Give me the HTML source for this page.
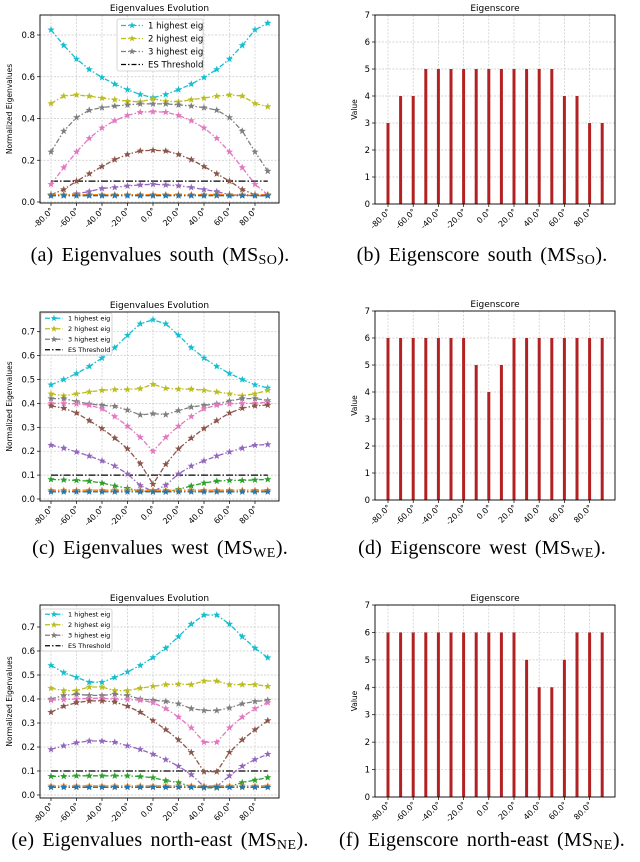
<!DOCTYPE html>
<html><head><meta charset="utf-8">
<style>
body{margin:0;background:#fff;}
#wrap{position:relative;width:640px;height:862px;overflow:hidden;}
.cap{position:absolute;font-family:"Liberation Serif",serif;font-size:20px;word-spacing:3px;letter-spacing:0.2px;color:#000;white-space:nowrap;transform:translateX(-50%);}
.cap sub{font-size:14px;vertical-align:-3px;letter-spacing:0.5px;}
</style></head>
<body><div id="wrap">
<svg id="svg" width="640" height="862" xmlns="http://www.w3.org/2000/svg"></svg>
<div class="cap" style="left:160px;top:244px">(a) Eigenvalues south (MS<sub>SO</sub>).</div>
<div class="cap" style="left:482px;top:244px">(b) Eigenscore south (MS<sub>SO</sub>).</div>
<div class="cap" style="left:160px;top:537px">(c) Eigenvalues west (MS<sub>WE</sub>).</div>
<div class="cap" style="left:482px;top:537px">(d) Eigenscore west (MS<sub>WE</sub>).</div>
<div class="cap" style="left:160px;top:829px">(e) Eigenvalues north-east (MS<sub>NE</sub>).</div>
<div class="cap" style="left:482px;top:829px">(f) Eigenscore north-east (MS<sub>NE</sub>).</div>
</div>
<script>
const angles=[-80,-70,-60,-50,-40,-30,-20,-10,0,10,20,30,40,50,60,70,80,90];
const tickAngles=[-80,-60,-40,-20,0,20,40,60,80];
const seriesNames=['cyan','olive','gray','pink','brown','purple','green','orange','blue'];
const southEig=[
[.825,.75,.685,.635,.597,.565,.538,.515,.50,.515,.538,.565,.597,.635,.685,.75,.825,.857],
[.472,.508,.513,.507,.498,.49,.483,.48,.495,.483,.48,.49,.498,.507,.513,.508,.472,.457],
[.24,.34,.405,.44,.452,.46,.465,.47,.47,.47,.465,.46,.452,.44,.405,.34,.24,.148],
[.085,.165,.24,.305,.355,.39,.415,.43,.433,.43,.415,.39,.355,.305,.24,.165,.085,.035],
[.035,.06,.10,.135,.17,.203,.228,.245,.248,.245,.228,.203,.17,.135,.10,.06,.035,.033],
[.03,.033,.04,.05,.065,.07,.077,.082,.085,.082,.078,.07,.06,.05,.035,.032,.03,.03],
[.033,.033,.033,.033,.033,.033,.033,.033,.033,.033,.033,.033,.033,.033,.033,.033,.033,.033],
[.035,.035,.035,.035,.035,.035,.035,.035,.035,.035,.035,.035,.035,.035,.035,.035,.035,.035],
[.03,.03,.03,.03,.03,.03,.03,.03,.03,.03,.03,.03,.03,.03,.03,.03,.03,.03]];
const westEig=[
[.478,.50,.525,.555,.59,.633,.685,.733,.75,.733,.685,.633,.59,.555,.525,.50,.478,.465],
[.44,.432,.44,.448,.455,.458,.458,.462,.48,.463,.46,.46,.455,.448,.44,.432,.44,.455],
[.42,.42,.408,.398,.392,.388,.372,.352,.357,.353,.37,.385,.392,.398,.41,.42,.42,.412],
[.40,.40,.398,.393,.378,.345,.305,.258,.20,.258,.305,.345,.378,.393,.398,.40,.40,.405],
[.39,.38,.36,.328,.295,.255,.21,.148,.062,.145,.21,.255,.295,.328,.36,.38,.39,.393],
[.225,.213,.197,.18,.16,.138,.105,.057,.032,.058,.105,.138,.16,.18,.197,.213,.225,.228],
[.082,.08,.078,.075,.067,.055,.045,.033,.03,.03,.04,.055,.067,.075,.078,.078,.08,.082],
[.037,.037,.037,.037,.037,.037,.037,.037,.037,.037,.037,.037,.037,.037,.037,.037,.037,.037],
[.03,.03,.03,.03,.03,.03,.03,.03,.03,.03,.03,.03,.03,.03,.03,.03,.03,.03]];
const neEig=[
[.54,.51,.49,.47,.47,.49,.513,.54,.573,.612,.66,.712,.75,.75,.712,.66,.612,.572],
[.445,.435,.435,.45,.45,.435,.435,.445,.453,.46,.462,.46,.475,.475,.46,.46,.46,.453],
[.40,.415,.42,.415,.415,.42,.415,.40,.395,.39,.38,.36,.352,.352,.363,.38,.39,.395],
[.395,.398,.40,.403,.403,.40,.398,.395,.385,.36,.325,.28,.22,.22,.28,.325,.36,.385],
[.345,.37,.385,.392,.392,.388,.37,.345,.31,.272,.23,.178,.097,.097,.178,.23,.272,.31],
[.19,.205,.218,.225,.225,.22,.205,.19,.17,.147,.12,.085,.035,.035,.08,.12,.148,.17],
[.078,.078,.08,.08,.08,.08,.08,.077,.072,.06,.052,.035,.03,.03,.035,.052,.062,.073],
[.038,.038,.038,.038,.038,.038,.038,.038,.038,.038,.038,.038,.038,.038,.038,.038,.038,.038],
[.032,.032,.032,.032,.032,.032,.032,.032,.032,.032,.032,.032,.032,.032,.032,.032,.032,.032]];
const threshold=0.1;
const southScore=[3,4,4,5,5,5,5,5,5,5,5,5,5,5,4,4,3,3];
const westScore=[6,6,6,6,6,6,6,5,4,5,6,6,6,6,6,6,6,6];
const neScore=[6,6,6,6,6,6,6,6,6,6,6,5,4,4,5,6,6,6];
const yTicksA=[0,0.2,0.4,0.6,0.8];
const yTicksC=[0,0.1,0.2,0.3,0.4,0.5,0.6,0.7];
const scoreTicks=[0,1,2,3,4,5,6,7];
const legendLabels=['1 highest eig','2 highest eig','3 highest eig','ES Threshold'];

const colors=['#17becf','#bcbd22','#7f7f7f','#e377c2','#8c564b','#9467bd','#2ca02c','#ff7f0e','#1f77b4'];
const NS='http://www.w3.org/2000/svg';
const svg=document.getElementById('svg');
function el(tag,attrs,parent){const e=document.createElementNS(NS,tag);for(const k in attrs)e.setAttribute(k,attrs[k]);(parent||svg).appendChild(e);return e;}
function txt(s,attrs,parent){const e=el('text',attrs,parent);e.textContent=s;return e;}
const F='"DejaVu Sans","Liberation Sans",sans-serif';
function star(cx,cy,r){let p=[];for(let i=0;i<10;i++){const a=-Math.PI/2+i*Math.PI/5;const rr=i%2?r*0.42:r;p.push((cx+rr*Math.cos(a)).toFixed(1)+','+(cy+rr*Math.sin(a)).toFixed(1));}return p.join(' ');}

function frame(g,L,yTicks,fmt){
  const {x0,x1,yt,yb,xs,ys}=L;
  tickAngles.forEach(a=>{const x=xs(a);el('line',{x1:x,x2:x,y1:yt,y2:yb,stroke:'#c8c8c8','stroke-width':0.7,'stroke-dasharray':'2,1.5'},g);});
  yTicks.forEach(v=>{const y=ys(v);el('line',{x1:x0,x2:x1,y1:y,y2:y,stroke:'#c8c8c8','stroke-width':0.7,'stroke-dasharray':'2,1.5'},g);
    el('line',{x1:x0-3,x2:x0,y1:y,y2:y,stroke:'#000','stroke-width':0.7},g);
    const t=txt(fmt(v),{x:x0-5,y:y+3,'font-size':8.5,'font-family':F,'text-anchor':'end'},g);
    
    });
  tickAngles.forEach(a=>{const x=xs(a);el('line',{x1:x,x2:x,y1:yb,y2:yb+3,stroke:'#000','stroke-width':0.7},g);
    const t=txt(a.toFixed(1)+'°',{x:x+3,y:yb+8,'font-size':8,'font-family':F,'text-anchor':'end',transform:`rotate(-45 ${x+3} ${yb+8})`},g);
    
    });
}
function border(g,L){const b=el('rect',{x:L.x0,y:L.yt,width:L.x1-L.x0,height:L.yb-L.yt,fill:'none',stroke:'#000','stroke-width':0.9},g);
  }

function lineChart(name,data,L,yTicks,fmt,leg){
  const g=el('g',{});
  
  
  frame(g,L,yTicks,fmt);
  const t=txt('Eigenvalues Evolution',{x:(L.x0+L.x1)/2,y:L.yt-4,'font-size':9,'font-family':F,'text-anchor':'middle'},g);
  
  const yl=txt('Normalized Eigenvalues',{x:0,y:0,'font-size':7.5,'font-family':F,'text-anchor':'middle',transform:`translate(12 ${(L.yt+L.yb)/2}) rotate(-90)`},g);
  
  const th=el('line',{x1:L.xs(angles[0]),x2:L.xs(angles[angles.length-1]),y1:L.ys(threshold),y2:L.ys(threshold),stroke:'#000','stroke-width':1.3,'stroke-dasharray':'7,2,1.5,2'},g);
  
  data.forEach((s,i)=>{
    const pts=s.map((v,j)=>L.xs(angles[j]).toFixed(1)+','+L.ys(v).toFixed(1)).join(' ');
    const pl=el('polyline',{points:pts,fill:'none',stroke:colors[i],'stroke-width':1.3,'stroke-dasharray':'5,2,1.5,2'},g);
    
    s.forEach((v,j)=>{const m=el('polygon',{points:star(L.xs(angles[j]),L.ys(v),3.8),fill:colors[i]},g);
      });
  });
  border(g,L);
  const lg=el('g',{},g);
  
  el('rect',{x:leg.x,y:leg.y,width:leg.w,height:leg.h,fill:'#fff','fill-opacity':0.85,stroke:'#ccc','stroke-width':0.8,rx:2},lg);
  const rowH=leg.h/4;
  legendLabels.forEach((lab,i)=>{
    const cy=leg.y+rowH*(i+0.5);const lx=leg.x+4;
    const c=i<3?colors[i]:'#000';
    el('line',{x1:lx,x2:lx+leg.ll,y1:cy,y2:cy,stroke:c,'stroke-width':1.3,'stroke-dasharray':'5,2,1.5,2'},lg);
    if(i<3)el('polygon',{points:star(lx+leg.ll/2,cy,3.5),fill:c},lg);
    const e=txt(lab,{x:lx+leg.ll+5,y:cy+leg.fs*0.36,'font-size':leg.fs,'font-family':F},lg);
    
  });
}
function barChart(name,data,L){
  const g=el('g',{});
  
  
  frame(g,L,scoreTicks,v=>String(v));
  const t=txt('Eigenscore',{x:(L.x0+L.x1)/2,y:L.yt-4,'font-size':9,'font-family':F,'text-anchor':'middle'},g);
  
  const yl=txt('Value',{x:0,y:0,'font-size':7.5,'font-family':F,'text-anchor':'middle',transform:`translate(357 ${(L.yt+L.yb)/2}) rotate(-90)`},g);
  
  data.forEach((v,j)=>{const x=L.xs(angles[j]);const y=L.ys(v);
    const b=el('rect',{x:x-1.5,y:y,width:3,height:L.ys(0)-y,fill:'#b22222'},g);
    });
  border(g,L);
}
function leftL(yt,yb,zero,per){return {x0:40,x1:279,yt,yb,xs:a=>51+(a+80)*1.275,ys:v=>zero-v*per};}
function rightL(yt,yb){const per=(yb-yt)/7;return {x0:375,x1:615,yt,yb,xs:a=>388+(a+80)*1.26,ys:v=>yb-v*per};}
const f1=v=>v.toFixed(1);
lineChart('eigenvalues-south-chart',southEig,leftL(15,203,202,208.75),yTicksA,f1,{x:117,y:19,w:86,h:52,fs:8.5,ll:22});
lineChart('eigenvalues-west-chart',westEig,leftL(312,501,499,239),yTicksC,f1,{x:41,y:313,w:71,h:42,fs:6.5,ll:18});
lineChart('eigenvalues-northeast-chart',neEig,leftL(605,798,795,240),yTicksC,f1,{x:41,y:609,w:71,h:42,fs:6.5,ll:18});
barChart('eigenscore-south-chart',southScore,rightL(15,204));
barChart('eigenscore-west-chart',westScore,rightL(311,500));
barChart('eigenscore-northeast-chart',neScore,rightL(605,797));
</script>
</body></html>
